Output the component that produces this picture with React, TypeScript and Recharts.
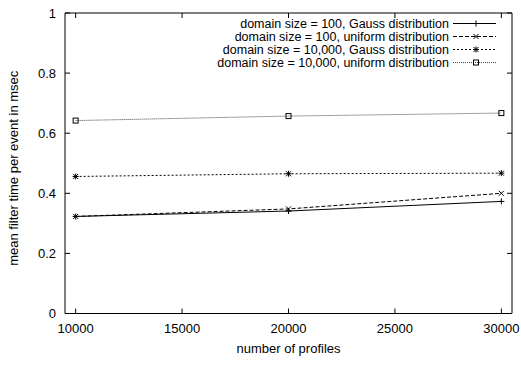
import React from "react";
import { LineChart, Line, XAxis, YAxis, ReferenceArea, Legend } from "recharts";

// values
const profiles = [10000, 20000, 30000];
const gauss100 = [0.323, 0.341, 0.373];
const uniform100 = [0.323, 0.348, 0.4];
const gauss10k = [0.456, 0.465, 0.467];
const uniform10k = [0.642, 0.657, 0.667];

const xTicks = [10000, 15000, 20000, 25000, 30000];
const yTicks = [0, 0.2, 0.4, 0.6, 0.8, 1];

const seriesLabels = [
  "domain size = 100, Gauss distribution",
  "domain size = 100, uniform distribution",
  "domain size = 10,000, Gauss distribution",
  "domain size = 10,000, uniform distribution",
];

const data = profiles.map((p, i) => ({
  profiles: p,
  g100: gauss100[i],
  u100: uniform100[i],
  g10k: gauss10k[i],
  u10k: uniform10k[i],
}));

const W = 521;
const H = 369;
const LEFT = 65;
const RIGHT = 9;
const TOP = 13;
const BOTTOM = 55.5;
const PW = W - LEFT - RIGHT;
const PH = H - TOP - BOTTOM;
const FONT = "'Liberation Sans', Arial, Helvetica, sans-serif";
const FS = 13;
const TICK = 5;

type Kind = "plus" | "cross" | "star" | "square";

const styles: { key: string; kind: Kind; dash?: string; color: string }[] = [
  { key: "g100", kind: "plus", color: "#000" },
  { key: "u100", kind: "cross", dash: "4 2", color: "#000" },
  { key: "g10k", kind: "star", dash: "2 2", color: "#000" },
  { key: "u10k", kind: "square", dash: "1 1", color: "#444" },
];

function Marker({ kind, cx, cy }: { kind: Kind; cx: number; cy: number }) {
  const r = 2.5;
  const s = { stroke: "#000", strokeWidth: 1, fill: "none" };
  if (kind === "square") {
    return <rect x={cx - r} y={cy - r} width={2 * r} height={2 * r} {...s} />;
  }
  const plus = (
    <>
      <line x1={cx - r - 0.5} x2={cx + r + 0.5} y1={cy} y2={cy} {...s} />
      <line x1={cx} x2={cx} y1={cy - r - 0.5} y2={cy + r + 0.5} {...s} />
    </>
  );
  const cross = (
    <>
      <line x1={cx - r} x2={cx + r} y1={cy - r} y2={cy + r} {...s} />
      <line x1={cx - r} x2={cx + r} y1={cy + r} y2={cy - r} {...s} />
    </>
  );
  return (
    <g>
      {kind !== "cross" && plus}
      {kind !== "plus" && cross}
    </g>
  );
}

const dotFor = (kind: Kind) => (props: any) => (
  <Marker key={`${kind}-${props.index}`} kind={kind} cx={props.cx} cy={props.cy} />
);

function XTick({ x, y, payload }: any) {
  return (
    <g>
      <line x1={x} x2={x} y1={y} y2={y - TICK} stroke="#000" />
      <line x1={x} x2={x} y1={y - PH} y2={y - PH + TICK} stroke="#000" />
      <text x={x} y={y + 19} textAnchor="middle" fontSize={FS} fontFamily={FONT} fill="#000">
        {payload.value}
      </text>
    </g>
  );
}

function YTick({ x, y, payload }: any) {
  return (
    <g>
      <line x1={x} x2={x + TICK} y1={y} y2={y} stroke="#000" />
      <line x1={x + PW} x2={x + PW - TICK} y1={y} y2={y} stroke="#000" />
      <text x={x - 9} y={y + 4.5} textAnchor="end" fontSize={FS} fontFamily={FONT} fill="#000">
        {String(payload.value)}
      </text>
    </g>
  );
}

function LegendBox() {
  const textRight = 449;
  const x1 = 453;
  const x2 = 496;
  const rows = [23.5, 36.5, 49.5, 62.5];
  return (
    <svg width={W} height={H} style={{ position: "absolute", left: 0, top: 0 }}>
      {seriesLabels.map((label, i) => {
        const st = styles[i];
        const y = rows[i];
        return (
          <g key={label}>
            <text x={textRight} y={y + 4.3} textAnchor="end" fontSize={12.5} fontFamily={FONT} fill="#000">
              {label}
            </text>
            <line x1={x1} x2={x2} y1={y} y2={y} stroke={st.color} strokeDasharray={st.dash} />
            <Marker kind={st.kind} cx={476} cy={y} />
          </g>
        );
      })}
    </svg>
  );
}

export default function App() {
  return (
    <div style={{ position: "fixed", left: 0, top: 0, width: W, height: H, background: "#fff" }}>
      <LineChart
        width={W}
        height={H}
        data={data}
        margin={{ top: TOP, right: RIGHT, left: 0, bottom: 0 }}
      >
        <XAxis
          dataKey="profiles"
          type="number"
          domain={[9500, 30500]}
          ticks={xTicks}
          height={BOTTOM}
          axisLine={false}
          tickLine={false}
          tickSize={0}
          tickMargin={0}
          tick={<XTick />}
          interval={0}
          label={{
            value: "number of profiles",
            position: "insideBottom",
            offset: 16,
            fontSize: FS,
            fontFamily: FONT,
            fill: "#000",
          }}
        />
        <YAxis
          type="number"
          domain={[0, 1]}
          ticks={yTicks}
          width={LEFT}
          axisLine={false}
          tickLine={false}
          tickSize={0}
          tickMargin={0}
          tick={<YTick />}
          interval={0}
          label={{
            value: "mean filter time per event in msec",
            angle: -90,
            position: "insideLeft",
            offset: 13,
            dy: 5,
            style: { textAnchor: "middle" },
            fontSize: FS,
            fontFamily: FONT,
            fill: "#000",
          }}
        />
        <ReferenceArea x1={9500} x2={30500} y1={0} y2={1} fill="none" stroke="#000" strokeWidth={1} />
        <Legend
          layout="vertical"
          align="center"
          verticalAlign="middle"
          content={<LegendBox />}
          wrapperStyle={{ left: 0, top: 0, width: W, height: H }}
        />
        {styles.map((st) => (
          <Line
            key={st.key}
            dataKey={st.key}
            type="linear"
            stroke={st.color}
            strokeWidth={1}
            strokeDasharray={st.dash}
            dot={dotFor(st.kind)}
            activeDot={false}
            isAnimationActive={false}
          />
        ))}
      </LineChart>
    </div>
  );
}
